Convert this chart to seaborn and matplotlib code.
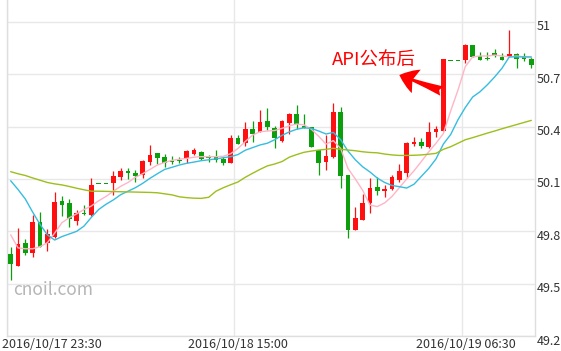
import matplotlib
matplotlib.use("Agg")
import matplotlib.pyplot as plt
import matplotlib.transforms as mtransforms
import numpy as np
import pandas as pd
import seaborn as sns

# 30-minute candles, 2016/10/17 23:30 -> 2016/10/19 11:00
opens = [49.67, 49.60, 49.731, 49.674, 49.851, 49.731, 49.765, 49.974, 49.964, 49.861,
         49.906, 49.893, 50.073, 50.073, 50.079, 50.110, 50.146, 50.134, 50.121, 50.199,
         50.247, 50.228, 50.205, 50.209, 50.222, 50.241, 50.255, 50.226, 50.233, 50.216,
         50.192, 50.333, 50.304, 50.385, 50.371, 50.434, 50.394, 50.319, 50.423, 50.472,
         50.405, 50.396, 50.266, 50.199, 50.228, 50.486, 50.123, 49.807, 49.865, 49.960,
         50.056, 50.033, 50.042, 50.094, 50.132, 50.300, 50.314, 50.285, 50.371, 50.377,
         50.78, 50.78, 50.782, 50.868, 50.805, 50.795, 50.817, 50.801, 50.798, 50.815,
         50.805, 50.786]
highs = [49.71, 49.82, 49.754, 49.893, 49.912, 49.813, 50.027, 50.001, 49.985, 49.922,
         49.951, 50.104, 50.073, 50.073, 50.146, 50.165, 50.163, 50.150, 50.209, 50.295,
         50.247, 50.243, 50.232, 50.228, 50.266, 50.279, 50.262, 50.237, 50.264, 50.226,
         50.354, 50.352, 50.428, 50.432, 50.495, 50.505, 50.404, 50.438, 50.476, 50.524,
         50.472, 50.396, 50.266, 50.352, 50.534, 50.514, 50.123, 49.941, 50.012, 50.104,
         50.110, 50.065, 50.123, 50.186, 50.314, 50.342, 50.333, 50.428, 50.404, 50.786,
         50.78, 50.78, 50.874, 50.868, 50.830, 50.830, 50.843, 50.821, 50.954, 50.821,
         50.824, 50.801]
lows = [49.52, 49.60, 49.666, 49.651, 49.708, 49.689, 49.761, 49.889, 49.823, 49.834,
        49.893, 49.888, 50.073, 50.073, 50.008, 50.092, 50.101, 50.084, 50.104, 50.180,
        50.184, 50.170, 50.184, 50.190, 50.193, 50.236, 50.207, 50.199, 50.196, 50.182,
        50.190, 50.300, 50.291, 50.310, 50.368, 50.381, 50.276, 50.314, 50.356, 50.385,
        50.394, 50.282, 50.123, 50.151, 50.222, 50.050, 49.760, 49.807, 49.865, 49.903,
        50.008, 49.998, 50.037, 50.084, 50.104, 50.289, 50.276, 50.276, 50.342, 50.377,
        50.78, 50.78, 50.763, 50.798, 50.782, 50.782, 50.801, 50.782, 50.798, 50.735,
        50.778, 50.735]
closes = [49.61, 49.73, 49.677, 49.851, 49.712, 49.783, 49.970, 49.949, 49.870, 49.903,
          49.897, 50.065, 50.073, 50.073, 50.115, 50.146, 50.132, 50.119, 50.203, 50.237,
          50.218, 50.190, 50.197, 50.205, 50.259, 50.266, 50.213, 50.220, 50.210, 50.192,
          50.333, 50.300, 50.385, 50.360, 50.425, 50.396, 50.333, 50.434, 50.472, 50.413,
          50.394, 50.282, 50.190, 50.233, 50.486, 50.117, 49.807, 49.874, 49.964, 50.046,
          50.033, 50.044, 50.110, 50.146, 50.304, 50.314, 50.289, 50.371, 50.385, 50.786,
          50.78, 50.78, 50.868, 50.801, 50.782, 50.788, 50.813, 50.782, 50.817, 50.786,
          50.786, 50.753]

# moving averages
ma_fast = [49.78, 49.705, 49.70, 49.70, 49.712, 49.735, 49.79, 49.85, 49.878, 49.90,
           49.925, 49.945, 49.975, 50.00, 50.03, 50.058, 50.08, 50.11, 50.13, 50.155,
           50.18, 50.195, 50.207, 50.213, 50.218, 50.225, 50.228, 50.228, 50.228, 50.23,
           50.245, 50.275, 50.315, 50.352, 50.371, 50.375, 50.378, 50.39, 50.405, 50.415,
           50.41, 50.385, 50.345, 50.30, 50.32, 50.275, 50.16, 50.10, 50.035, 49.95,
           49.942, 49.963, 50.0, 50.05, 50.10, 50.147, 50.20, 50.255, 50.305, 50.36,
           50.49, 50.61, 50.745, 50.80, 50.805, 50.805, 50.81, 50.805, 50.80, 50.805,
           50.80, 50.795]
ma_mid = [50.09, 50.04, 49.985, 49.91, 49.84, 49.78, 49.75, 49.77, 49.785, 49.80,
          49.83, 49.88, 49.925, 49.955, 49.98, 50.01, 50.03, 50.05, 50.075, 50.104,
          50.13, 50.155, 50.167, 50.18, 50.19, 50.197, 50.205, 50.21, 50.215, 50.222,
          50.228, 50.24, 50.265, 50.28, 50.295, 50.305, 50.325, 50.35, 50.37, 50.385,
          50.393, 50.39, 50.375, 50.358, 50.367, 50.325, 50.26, 50.21, 50.17, 50.14,
          50.105, 50.08, 50.063, 50.056, 50.048, 50.07, 50.115, 50.16, 50.215, 50.30,
          50.355, 50.44, 50.51, 50.57, 50.60, 50.64, 50.685, 50.735, 50.80, 50.80,
          50.80, 50.80]
ma_slow = [50.142, 50.13, 50.12, 50.106, 50.093, 50.08, 50.072, 50.066, 50.057, 50.047,
           50.038, 50.03, 50.03, 50.029, 50.028, 50.027, 50.026, 50.025, 50.024, 50.023,
           50.021, 50.015, 50.009, 49.998, 49.993, 49.99, 49.989, 49.995, 50.03, 50.05,
           50.067, 50.083, 50.11, 50.133, 50.155, 50.175, 50.186, 50.20, 50.225, 50.24,
           50.253, 50.26, 50.266, 50.27, 50.276, 50.27, 50.266, 50.262, 50.256, 50.252,
           50.25, 50.243, 50.238, 50.235, 50.235, 50.236, 50.238, 50.242, 50.247, 50.27,
           50.285, 50.305, 50.325, 50.337, 50.35, 50.363, 50.375, 50.388, 50.40, 50.412,
           50.424, 50.436]

tick_slots = [0, 31, 62]
tick_labels = ["2016/10/17 23:30", "2016/10/18 15:00", "2016/10/19 06:30"]
y_ticks = [49.2, 49.5, 49.8, 50.1, 50.4, 50.7, 51.0]
y_labels = ["49.2", "49.5", "49.8", "50.1", "50.4", "50.7", "51"]

RED = "#ff1010"
GREEN = "#0c9e0c"

sns.set_style("white")
plt.rcParams["font.family"] = ["Noto Sans CJK SC", "DejaVu Sans"]

df = pd.DataFrame({"open": opens, "high": highs, "low": lows, "close": closes,
                   "ma5": ma_fast, "ma10": ma_mid, "ma30": ma_slow})
df["x"] = np.arange(len(df)) + 0.5
df["color"] = np.where(df["close"] > df["open"], RED, GREEN)

fig = plt.figure(figsize=(5.61, 3.51), dpi=100)
ax = fig.add_axes([7 / 561, 15 / 351, 528 / 561, 336 / 351])

# candles
raw = (df["close"] - df["open"]).abs()
body = np.maximum(raw, 0.009)
bottom = np.minimum(df["open"], df["close"]) - (body - raw) / 2
ax.vlines(df["x"], df["low"], df["high"], colors=df["color"], linewidth=0.9, zorder=2)
ax.bar(df["x"], body, bottom=bottom, width=0.66, color=df["color"], linewidth=0, zorder=3)

# moving averages
sns.lineplot(data=df, x="x", y="ma5", ax=ax, color="#ffb5c5", linewidth=1.0, zorder=4)
sns.lineplot(data=df, x="x", y="ma10", ax=ax, color="#36bde0", linewidth=1.0, zorder=4)
sns.lineplot(data=df, x="x", y="ma30", ax=ax, color="#9cbf1c", linewidth=1.0, zorder=4)

ax.set_xlim(0, len(df))
ax.set_ylim(49.2, 51.126)
ax.set_xlabel("")
ax.set_ylabel("")

ax.set_xticks(tick_slots, tick_labels)
ax.set_yticks(y_ticks, y_labels)
ax.yaxis.tick_right()
ax.tick_params(axis="both", length=0, labelsize=9, labelcolor="#333333")
ax.tick_params(axis="y", pad=1)
ax.tick_params(axis="x", pad=1.5)

ax.grid(True, color="#e8e8e8", linewidth=1)
ax.set_axisbelow(True)
for side in ["left", "bottom", "right"]:
    ax.spines[side].set_color("#dedede")
    ax.spines[side].set_linewidth(1)
ax.spines["top"].set_visible(False)

# label nudges
for lab, dx in zip(ax.get_xticklabels(), [-5, 4, 4]):
    lab.set_transform(lab.get_transform() + mtransforms.ScaledTranslation(dx / 100, 0, fig.dpi_scale_trans))
ax.get_xticklabels()[0].set_ha("left")
for lab in ax.get_yticklabels():
    lab.set_transform(lab.get_transform() + mtransforms.ScaledTranslation(0, -3.5 / 100, fig.dpi_scale_trans))

# annotation
ax.text(44.3, 50.782, "API公布后", color="#ff0000", fontsize=13.3, ha="left", va="center")
ax.annotate("", xy=(53.5, 50.696), xytext=(59.3, 50.604),
            arrowprops=dict(arrowstyle="fancy,head_length=1.3,head_width=1.8,tail_width=0.7",
                            color="#ff0000", shrinkA=0, shrinkB=0, mutation_scale=10, linewidth=0))

ax.text(0.011, 0.137, "cnoil.com", transform=ax.transAxes, color="#b5b5b5",
        fontsize=12.5, ha="left", va="center")

fig.savefig("out.png", dpi=100)
